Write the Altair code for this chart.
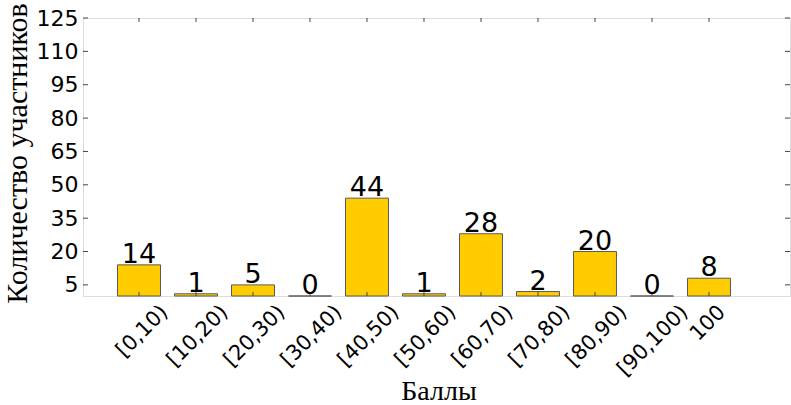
import altair as alt
import pandas as pd

# Score bands and the number of participants in each
bands = ["[0,10)", "[10,20)", "[20,30)", "[30,40)", "[40,50)", "[50,60)",
         "[60,70)", "[70,80)", "[80,90)", "[90,100)", "100"]
counts = [14, 1, 5, 0, 44, 1, 28, 2, 20, 0, 8]

# Y axis tick values
y_ticks = [5, 20, 35, 50, 65, 80, 95, 110, 125]

W, H = 707, 278
FRAME = "#444444"
SANS = "DejaVu Sans"
SERIF = "Liberation Serif"

bars_df = pd.DataFrame({"band": bands, "count": counts})
yt_df = pd.DataFrame({"v": y_ticks})

x_scale = alt.Scale(domain=bands, paddingInner=0.246, paddingOuter=0.825, align=0.367)
y_scale = alt.Scale(domain=[0, 125], nice=False, zero=True)

# Rotated tick labels: shift each one so its upper end sits right of the tick
label_shift = {
    "condition": [
        {"test": "length(datum.label) == 3", "value": 5.5},
        {"test": "length(datum.label) == 6", "value": 18},
        {"test": "length(datum.label) == 8", "value": 25},
    ],
    "value": 21,
}

x_axis = alt.Axis(
    title="Баллы", titleFont=SERIF, titleFontSize=28, titleFontWeight="normal",
    titleColor="black", titleX=355.5, titleY=103, titleAlign="center",
    titleBaseline="alphabetic", titleAngle=0,
    labelAngle=-45, labelAlign="right", labelBaseline="top",
    labelFont=SANS, labelFontSize=21, labelColor="black", labelPadding=5,
    labelOffset=label_shift, labelOverlap=False,
    ticks=False, tickSize=0, domain=False, grid=False,
)
y_axis = alt.Axis(
    title="Количество участников", titleFont=SERIF, titleFontSize=30,
    titleFontWeight="normal", titleColor="black", titleX=-57, titleY=135,
    titleAngle=270, titleAlign="center", titleBaseline="alphabetic",
    values=y_ticks, labelFont=SANS, labelFontSize=22, labelColor="black",
    labelPadding=5, labelOverlap=False, labelBaseline="middle",
    ticks=False, tickSize=0, domain=False, grid=False,
)

X = alt.X("band:N", scale=x_scale, axis=x_axis, sort=bands)
Y_COUNT = alt.Y("count:Q", scale=y_scale, axis=y_axis)

base = alt.Chart(bars_df)

bars = base.mark_bar(fill="#FFCC00", stroke="#5a5a5a", strokeWidth=1).encode(
    x=X, y=Y_COUNT,
)

values = base.mark_text(
    font=SANS, fontSize=27, baseline="alphabetic", align="center", dy=-2, color="black"
).encode(
    x=X, y=Y_COUNT, text="count:Q",
)

# Inward tick marks on the bottom and top edges at each band centre
ticks_bottom = base.mark_rule(color=FRAME, strokeWidth=1).encode(
    x=X, y=alt.value(H), y2=alt.value(H - 4)
)
ticks_top = base.mark_rule(color=FRAME, strokeWidth=1).encode(
    x=X, y=alt.value(0), y2=alt.value(4)
)

# Inward tick marks on the left and right edges
yt = alt.Chart(yt_df)
Y_TICK = alt.Y("v:Q", scale=y_scale, axis=y_axis)
ticks_left = yt.mark_rule(color=FRAME, strokeWidth=1).encode(
    y=Y_TICK, x=alt.value(0), x2=alt.value(5)
)
ticks_right = yt.mark_rule(color=FRAME, strokeWidth=1).encode(
    y=Y_TICK, x=alt.value(W - 5), x2=alt.value(W)
)

chart = alt.layer(
    bars, ticks_bottom, ticks_top, ticks_left, ticks_right, values
).properties(
    width=W, height=H,
    autosize=alt.AutoSizeParams(type="none"),
    padding={"left": 83, "top": 18, "right": 1, "bottom": 109},
).configure_axis(
    labelOverlap=False
).configure_view(
    stroke=FRAME, strokeWidth=1
).configure(background="white")

chart.save("out.html", embed_options={"renderer": "svg", "actions": False})
